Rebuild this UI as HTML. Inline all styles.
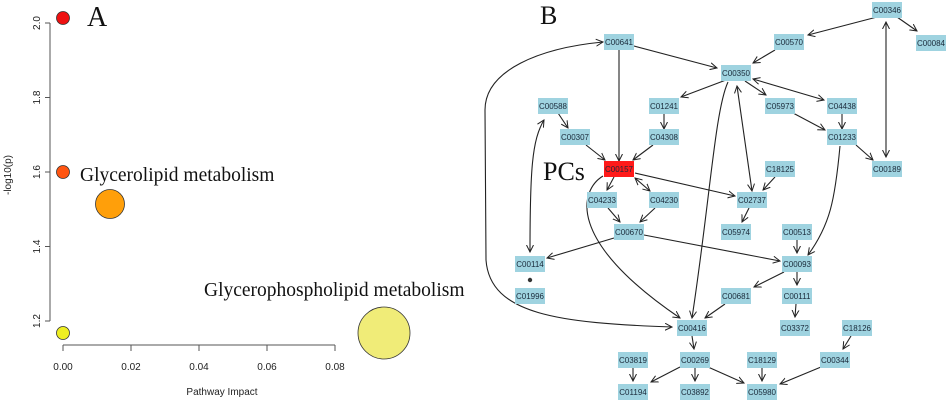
<!DOCTYPE html>
<html><head><meta charset="utf-8"><style>
body{margin:0;background:#fff;width:948px;height:402px;overflow:hidden}
svg{display:block}
.n rect{fill:#9fd3e0}
.n text{font-family:"Liberation Sans",sans-serif;font-size:8px;fill:#1a2a3a;text-anchor:middle}
.e{stroke:#222;stroke-width:1.1;fill:none;marker-end:url(#a)}
.d{marker-start:url(#s)}
.ax{font-family:"Liberation Sans",sans-serif;font-size:10px;fill:#222}
.big{font-family:"Liberation Serif",serif;fill:#111}
</style></head><body>
<svg width="948" height="402" viewBox="0 0 948 402">
<defs>
<marker id="a" markerWidth="8" markerHeight="8" refX="7" refY="4" orient="auto" markerUnits="userSpaceOnUse"><path d="M0,0.5 L7,4 L0,7.5" fill="none" stroke="#222"/></marker>
<marker id="s" markerWidth="8" markerHeight="8" refX="1" refY="4" orient="auto" markerUnits="userSpaceOnUse"><path d="M8,0.5 L1,4 L8,7.5" fill="none" stroke="#222"/></marker>
</defs>
<!-- Panel A -->
<line x1="50" y1="23" x2="50" y2="321" stroke="#555"/>
<g stroke="#555"><line x1="45" y1="23" x2="50" y2="23"/><line x1="45" y1="97.5" x2="50" y2="97.5"/><line x1="45" y1="172" x2="50" y2="172"/><line x1="45" y1="246.5" x2="50" y2="246.5"/><line x1="45" y1="321" x2="50" y2="321"/></g>
<line x1="63" y1="345" x2="335" y2="345" stroke="#555"/>
<g stroke="#555"><line x1="63" y1="345" x2="63" y2="351"/><line x1="131" y1="345" x2="131" y2="351"/><line x1="199" y1="345" x2="199" y2="351"/><line x1="267" y1="345" x2="267" y2="351"/><line x1="335" y1="345" x2="335" y2="351"/></g>
<g class="ax" text-anchor="middle">
<text transform="translate(37,23) rotate(-90)" dy="3">2.0</text>
<text transform="translate(37,97.5) rotate(-90)" dy="3">1.8</text>
<text transform="translate(37,172) rotate(-90)" dy="3">1.6</text>
<text transform="translate(37,246.5) rotate(-90)" dy="3">1.4</text>
<text transform="translate(37,321) rotate(-90)" dy="3">1.2</text>
<text transform="translate(8,175) rotate(-90)" dy="3">-log10(p)</text>
<text x="63" y="370">0.00</text><text x="131" y="370">0.02</text><text x="199" y="370">0.04</text><text x="267" y="370">0.06</text><text x="335" y="370">0.08</text>
<text x="222" y="395">Pathway Impact</text>
</g>
<g stroke="#333" stroke-width="0.8">
<circle cx="63" cy="18" r="6.5" fill="#ee1111"/>
<circle cx="63" cy="172" r="6.5" fill="#ff5511"/>
<circle cx="110" cy="204" r="14.5" fill="#ff9f0a"/>
<circle cx="63" cy="333" r="6.5" fill="#eeee22"/>
<circle cx="384" cy="333" r="26" fill="#f0ec78"/>
</g>
<text class="big" x="87" y="26" font-size="28">A</text>
<text class="big" x="80" y="181" font-size="19.5">Glycerolipid metabolism</text>
<text class="big" x="204" y="296" font-size="19.5">Glycerophospholipid metabolism</text>
<!-- Panel B -->
<text class="big" x="540" y="24" font-size="26">B</text>
<text class="big" x="543" y="180" font-size="26">PCs</text>
<g>
<line class="e" x1="877" y1="17" x2="808" y2="35"/>
<line class="e" x1="897" y1="17" x2="917" y2="31"/>
<line class="e d" x1="886" y1="22" x2="886" y2="157"/>
<line class="e" x1="775" y1="50" x2="753" y2="63"/>
<line class="e" x1="634" y1="46" x2="717" y2="68"/>
<line class="e" x1="619" y1="50" x2="619" y2="161"/>
<line class="e" x1="726" y1="80" x2="681" y2="97"/>
<line class="e" x1="745" y1="81" x2="766" y2="95"/>
<line class="e d" x1="753" y1="79" x2="824" y2="100"/>
<line class="e d" x1="737" y1="86" x2="752" y2="191"/>
<path class="e" d="M728,82 C715,110 710,200 692,318"/>
<line class="e" x1="558" y1="113" x2="568" y2="128"/>
<line class="e" x1="586" y1="145" x2="605" y2="160"/>
<line class="e" x1="664" y1="114" x2="664" y2="129"/>
<line class="e" x1="653" y1="145" x2="633" y2="160"/>
<line class="e" x1="793" y1="113" x2="825" y2="130"/>
<line class="e" x1="842" y1="114" x2="842" y2="129"/>
<line class="e" x1="856" y1="145" x2="873" y2="160"/>
<path class="e" d="M840,146 C835,200 830,225 808,255"/>
<line class="e" x1="635" y1="173" x2="735" y2="196"/>
<line class="e" x1="775" y1="177" x2="763" y2="190"/>
<line class="e" x1="614" y1="177" x2="607" y2="190"/>
<line class="e d" x1="635" y1="178" x2="650" y2="191"/>
<path class="e" d="M603,176 C580,190 565,240 680,318"/>
<line class="e" x1="608" y1="208" x2="620" y2="222"/>
<line class="e" x1="655" y1="208" x2="640" y2="222"/>
<line class="e" x1="749" y1="208" x2="742" y2="222"/>
<line class="e" x1="614" y1="238" x2="547" y2="258"/>
<line class="e" x1="644" y1="235" x2="780" y2="261"/>
<line class="e" x1="797" y1="240" x2="797" y2="253"/>
<path class="e d" d="M544,120 C532,140 530,170 530,252"/>
<path class="e d" d="M672,327 C560,323 490,315 486,260 L485,110 C485,70 540,48 603,42"/>
<line class="e" x1="784" y1="272" x2="754" y2="287"/>
<line class="e" x1="797" y1="272" x2="797" y2="285"/>
<line class="e" x1="796" y1="304" x2="795" y2="317"/>
<line class="e" x1="725" y1="304" x2="705" y2="318"/>
<line class="e" x1="692" y1="336" x2="694" y2="349"/>
<line class="e" x1="680" y1="367" x2="651" y2="382"/>
<line class="e" x1="695" y1="368" x2="695" y2="381"/>
<line class="e" x1="708" y1="367" x2="744" y2="383"/>
<line class="e" x1="633" y1="368" x2="633" y2="381"/>
<line class="e" x1="762" y1="368" x2="762" y2="381"/>
<line class="e" x1="851" y1="336" x2="843" y2="349"/>
<line class="e" x1="821" y1="367" x2="780" y2="384"/>
</g>
<circle cx="530" cy="280" r="2.2" fill="#333"/>
<g class="n">
<g transform="translate(887,10)"><rect x="-15" y="-8" width="30" height="16"/><text y="2.8">C00346</text></g>
<g transform="translate(619,42)"><rect x="-15" y="-8" width="30" height="16"/><text y="2.8">C00641</text></g>
<g transform="translate(789,42)"><rect x="-15" y="-8" width="30" height="16"/><text y="2.8">C00570</text></g>
<g transform="translate(931,43)"><rect x="-15" y="-8" width="30" height="16"/><text y="2.8">C00084</text></g>
<g transform="translate(736,73)"><rect x="-15" y="-8" width="30" height="16"/><text y="2.8">C00350</text></g>
<g transform="translate(553,106)"><rect x="-15" y="-8" width="30" height="16"/><text y="2.8">C00588</text></g>
<g transform="translate(664,106)"><rect x="-15" y="-8" width="30" height="16"/><text y="2.8">C01241</text></g>
<g transform="translate(780,106)"><rect x="-15" y="-8" width="30" height="16"/><text y="2.8">C05973</text></g>
<g transform="translate(842,106)"><rect x="-15" y="-8" width="30" height="16"/><text y="2.8">C04438</text></g>
<g transform="translate(575,137)"><rect x="-15" y="-8" width="30" height="16"/><text y="2.8">C00307</text></g>
<g transform="translate(664,137)"><rect x="-15" y="-8" width="30" height="16"/><text y="2.8">C04308</text></g>
<g transform="translate(842,137)"><rect x="-15" y="-8" width="30" height="16"/><text y="2.8">C01233</text></g>
<g transform="translate(619,169)"><rect x="-15" y="-8" width="30" height="16" style="fill:#ff1a1a"/><text y="2.8">C00157</text></g>
<g transform="translate(780,169)"><rect x="-15" y="-8" width="30" height="16"/><text y="2.8">C18125</text></g>
<g transform="translate(887,169)"><rect x="-15" y="-8" width="30" height="16"/><text y="2.8">C00189</text></g>
<g transform="translate(602,200)"><rect x="-15" y="-8" width="30" height="16"/><text y="2.8">C04233</text></g>
<g transform="translate(664,200)"><rect x="-15" y="-8" width="30" height="16"/><text y="2.8">C04230</text></g>
<g transform="translate(752,200)"><rect x="-15" y="-8" width="30" height="16"/><text y="2.8">C02737</text></g>
<g transform="translate(629,232)"><rect x="-15" y="-8" width="30" height="16"/><text y="2.8">C00670</text></g>
<g transform="translate(736,232)"><rect x="-15" y="-8" width="30" height="16"/><text y="2.8">C05974</text></g>
<g transform="translate(797,232)"><rect x="-15" y="-8" width="30" height="16"/><text y="2.8">C00513</text></g>
<g transform="translate(530,264)"><rect x="-15" y="-8" width="30" height="16"/><text y="2.8">C00114</text></g>
<g transform="translate(797,264)"><rect x="-15" y="-8" width="30" height="16"/><text y="2.8">C00093</text></g>
<g transform="translate(530,296)"><rect x="-15" y="-8" width="30" height="16"/><text y="2.8">C01996</text></g>
<g transform="translate(736,296)"><rect x="-15" y="-8" width="30" height="16"/><text y="2.8">C00681</text></g>
<g transform="translate(797,296)"><rect x="-15" y="-8" width="30" height="16"/><text y="2.8">C00111</text></g>
<g transform="translate(692,328)"><rect x="-15" y="-8" width="30" height="16"/><text y="2.8">C00416</text></g>
<g transform="translate(795,328)"><rect x="-15" y="-8" width="30" height="16"/><text y="2.8">C03372</text></g>
<g transform="translate(857,328)"><rect x="-15" y="-8" width="30" height="16"/><text y="2.8">C18126</text></g>
<g transform="translate(633,360)"><rect x="-15" y="-8" width="30" height="16"/><text y="2.8">C03819</text></g>
<g transform="translate(695,360)"><rect x="-15" y="-8" width="30" height="16"/><text y="2.8">C00269</text></g>
<g transform="translate(762,360)"><rect x="-15" y="-8" width="30" height="16"/><text y="2.8">C18129</text></g>
<g transform="translate(835,360)"><rect x="-15" y="-8" width="30" height="16"/><text y="2.8">C00344</text></g>
<g transform="translate(633,392)"><rect x="-15" y="-8" width="30" height="16"/><text y="2.8">C01194</text></g>
<g transform="translate(695,392)"><rect x="-15" y="-8" width="30" height="16"/><text y="2.8">C03892</text></g>
<g transform="translate(762,392)"><rect x="-15" y="-8" width="30" height="16"/><text y="2.8">C05980</text></g>
</g>
</svg>
</body></html>
